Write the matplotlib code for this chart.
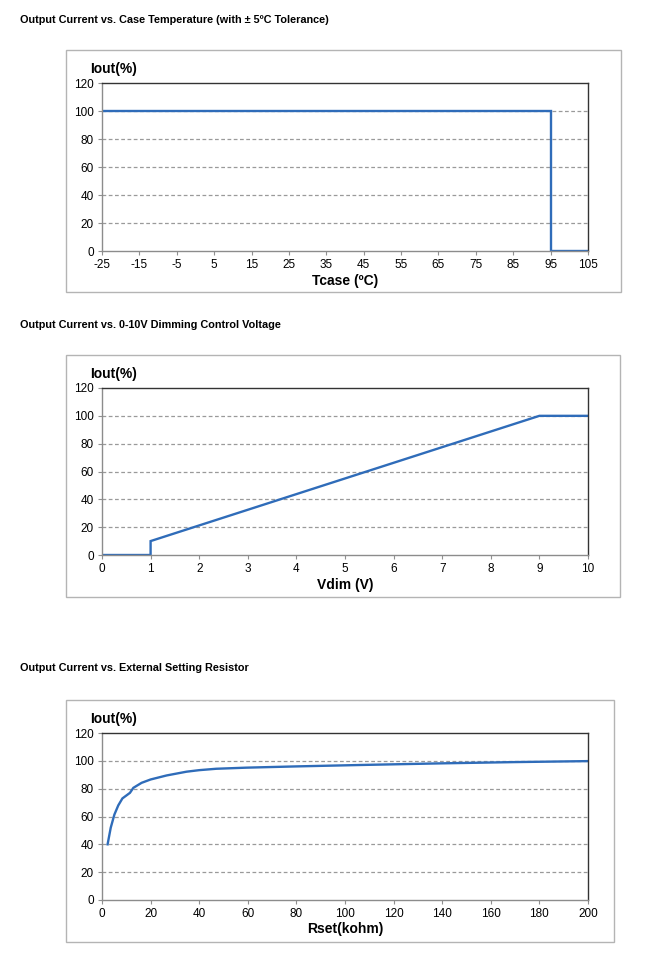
"""
Output current derating curves (three panels).
"""

import matplotlib
matplotlib.use("Agg")
import matplotlib.pyplot as plt
from matplotlib.patches import Rectangle

plt.rcParams["font.family"] = ["Liberation Sans", "DejaVu Sans"]
plt.rcParams["axes.unicode_minus"] = False

W, H = 650, 957
LINE = "#2f6cb9"

# --- data ---
tcase = [-25, 95, 95, 105]
iout_t = [100, 100, 0, 0]
tcase_ticks = [-25, -15, -5, 5, 15, 25, 35, 45, 55, 65, 75, 85, 95, 105]

vdim = [0, 1, 1, 9, 10]
iout_v = [0, 0, 10, 100, 100]
vdim_ticks = list(range(0, 11))

rset = [2.3, 3.6, 5.1, 6.7, 8.4, 11.5, 12.9, 16.3, 20, 26.6, 34.8, 40,
        47, 59.5, 80, 106, 140, 170, 200]
iout_r = [40, 52, 61.4, 68, 73, 77, 80.6, 84.2, 86.6, 89.5, 92.2, 93.3,
          94.3, 95.1, 96.0, 97.0, 98.2, 99.1, 99.8]
rset_ticks = list(range(0, 201, 20))

iout_ticks = [0, 20, 40, 60, 80, 100, 120]

panels = [
    dict(title="Output Current vs. Case Temperature (with \u00b1 5\u00baC Tolerance)",
         x=tcase, y=iout_t, xticks=tcase_ticks, xlabel="Tcase (\u00baC)",
         title_y=20, box=(66, 50, 621, 292), ax_y=(83, 251),
         ylab_y=69, xlab_y=281),
    dict(title="Output Current vs. 0-10V Dimming Control Voltage",
         x=vdim, y=iout_v, xticks=vdim_ticks, xlabel="Vdim (V)",
         title_y=325, box=(66, 355, 620, 597), ax_y=(388, 555),
         ylab_y=374, xlab_y=585),
    dict(title="Output Current vs. External Setting Resistor",
         x=rset, y=iout_r, xticks=rset_ticks, xlabel="Rset(kohm)",
         title_y=668, box=(66, 700, 614, 942), ax_y=(733, 900),
         ylab_y=719, xlab_y=929),
]

fig = plt.figure(figsize=(W / 100, H / 100), dpi=100)

for p in panels:
    x0, y0, x1, y1 = p["box"]
    fig.patches.append(Rectangle((x0 / W, 1 - y1 / H), (x1 - x0) / W,
                                 (y1 - y0) / H, transform=fig.transFigure,
                                 fill=False, edgecolor="#b4b4b4", lw=1.0))
    fig.text(20 / W, 1 - p["title_y"] / H, p["title"], fontsize=7.8,
             fontweight="bold", va="center", ha="left")

    top, bot = p["ax_y"]
    ax = fig.add_axes([102 / W, 1 - bot / H, 486 / W, (bot - top) / H])
    ax.plot(p["x"], p["y"], color=LINE, lw=1.7, solid_joinstyle="miter")
    ax.set_xlim(p["xticks"][0], p["xticks"][-1])
    ax.set_ylim(0, 120)
    ax.set_xticks(p["xticks"])
    ax.set_yticks(iout_ticks)
    ax.tick_params(labelsize=8.5, length=3, width=0.8, color="#909090", pad=3)
    for y in iout_ticks[1:-1]:
        ax.axhline(y, color="#9a9a9a", lw=0.9, ls=(0, (3, 2)), zorder=0)
    for side in ("left", "bottom"):
        ax.spines[side].set_color("#8c8c8c")
    for side in ("top", "right"):
        ax.spines[side].set_color("#333333")
    for s in ax.spines.values():
        s.set_linewidth(1.0)

    fig.text(90 / W, 1 - p["ylab_y"] / H, "Iout(%)", fontsize=10,
             fontweight="bold", va="center", ha="left")
    fig.text(345 / W, 1 - p["xlab_y"] / H, p["xlabel"], fontsize=10,
             fontweight="bold", va="center", ha="center")

fig.savefig("out.png", dpi=100)
